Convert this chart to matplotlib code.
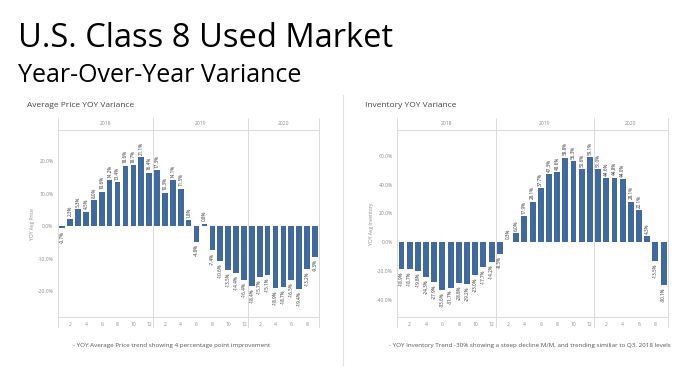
#! /usr/bin/env python

import matplotlib.pyplot as plt
from matplotlib.lines import Line2D

# config
plt.rcParams['font.family'] = ['Open Sans', 'DejaVu Sans']

years = ['2018', '2019', '2020']
monthsPerYear = [12, 12, 9]
monthTickLabels = [2, 4, 6, 8, 10, 12]

priceVariance = [-0.7, 2.3, 5.3, 4.5, 8.0, 10.6, 14.2, 13.4, 18.6, 18.7, 21.1, 16.4,
                 17.3, 10.3, 14.1, 11.5, 1.8, -4.8, 0.8, -7.4, -10.6, -13.5, -14.4, -16.4,
                 -18.4, -15.7, -15.1, -18.9, -18.7, -16.5, -19.4, -13.2, -9.3]
inventoryVariance = [-18.9, -18.7, -19.8, -24.3, -27.9, -33.6, -31.7, -28.8, -29.2, -23.0, -17.7, -14.2,
                     -8.5, 0.3, 6.0, 17.9, 28.1, 37.7, 47.3, 48.6, 58.8, 56.3, 50.6, 59.1,
                     51.0, 44.6, 44.8, 44.0, 28.1, 22.1, 4.3, -13.5, -30.1]

priceTicks = [-20, -10, 0, 10, 20]
inventoryTicks = [-40, -20, 0, 20, 40, 60]

barColor = '#41699c'
lineColor = '#d4d4d4'
tickColor = '#8a8a8a'
textColor = '#555555'


def drawPanel(ax, values, yTicks, yLim, title, titleX, yLabel, note, noteX):
    x = list(range(len(values)))
    ax.bar(x, values, width=0.72, color=barColor)

    # value labels
    for xi, v in zip(x, values):
        off = 0.012 * (yLim[1] - yLim[0])
        if v >= 0:
            ax.text(xi, v + off, '{:.1f}%'.format(v), rotation=90, ha='center', va='bottom',
                    fontsize=3.3, color='#333333')
        else:
            ax.text(xi, v - off, '{:.1f}%'.format(v), rotation=90, ha='center', va='top',
                    fontsize=3.3, color='#333333')

    ax.set_xlim(-0.5, len(values) - 0.5)
    ax.set_ylim(yLim)
    ax.set_yticks(yTicks)
    ax.set_yticklabels(['{:.1f}%'.format(t) for t in yTicks])

    # month ticks per year
    xt = []
    xl = []
    start = 0
    for n in monthsPerYear:
        for m in monthTickLabels:
            if m <= n:
                xt.append(start + m - 1)
                xl.append(str(m))
        start += n
    ax.set_xticks(xt)
    ax.set_xticklabels(xl)
    ax.tick_params(length=0, labelsize=3.6, colors=tickColor, pad=3.5)

    for s in ax.spines.values():
        s.set_visible(False)

    # frame and year header
    trans = ax.get_xaxis_transform()
    header = 1.064
    ax.add_line(Line2D([-0.5, len(values) - 0.5], [1, 1], transform=trans, color=lineColor, lw=0.6, clip_on=False))
    ax.add_line(Line2D([-0.5, len(values) - 0.5], [0, 0], transform=trans, color=lineColor, lw=0.6, clip_on=False))
    edges = [-0.5]
    start = -0.5
    for n in monthsPerYear:
        start += n
        edges.append(start)
    for e in edges:
        ax.add_line(Line2D([e, e], [-0.05, header], transform=trans, color=lineColor, lw=0.6, clip_on=False))
    for i, yr in enumerate(years):
        ax.text((edges[i] + edges[i + 1]) / 2, 1.032, yr, transform=trans, ha='center', va='center',
                fontsize=3.6, color=tickColor)

    ax.text(titleX, 1.13, title, transform=ax.transAxes, fontsize=6, color='#444444', va='center')
    ax.set_ylabel(yLabel, fontsize=3.6, color=tickColor, labelpad=2)
    ax.text(noteX, -0.147, note, transform=ax.transAxes, fontsize=4.5, color=textColor, ha='center', va='center')


fig = plt.figure(figsize=(7, 3.7), dpi=100)
axPrice = fig.add_axes([0.0833, 0.1419, 0.3724, 0.5068])
axInv = fig.add_axes([0.5677, 0.1419, 0.3862, 0.5068])

drawPanel(axPrice, priceVariance, priceTicks, (-28, 29.5), 'Average Price YOY Variance', -0.12, 'YOY Avg Price',
          '- YOY Average Price trend showing 4 percentage point improvement', 0.436)
drawPanel(axInv, inventoryVariance, inventoryTicks, (-52.5, 78), 'Inventory YOY Variance', -0.118, 'YOY Avg Inventory',
          '- YOY Inventory Trend -30% showing a steep decline M/M, and trending similiar to Q3, 2018 levels', 0.489)

# headings
fig.text(0.026, 0.94, 'U.S. Class 8 Used Market', fontsize=23.5, color='black', va='top')
fig.text(0.026, 0.83, 'Year-Over-Year Variance', fontsize=18, color='black', va='top')

# panel separator
fig.add_artist(Line2D([343 / 700, 343 / 700], [1 - 95 / 370, 1 - 365 / 370], color='#e2e2e2', lw=0.8))

fig.savefig('out.png', dpi=100)
